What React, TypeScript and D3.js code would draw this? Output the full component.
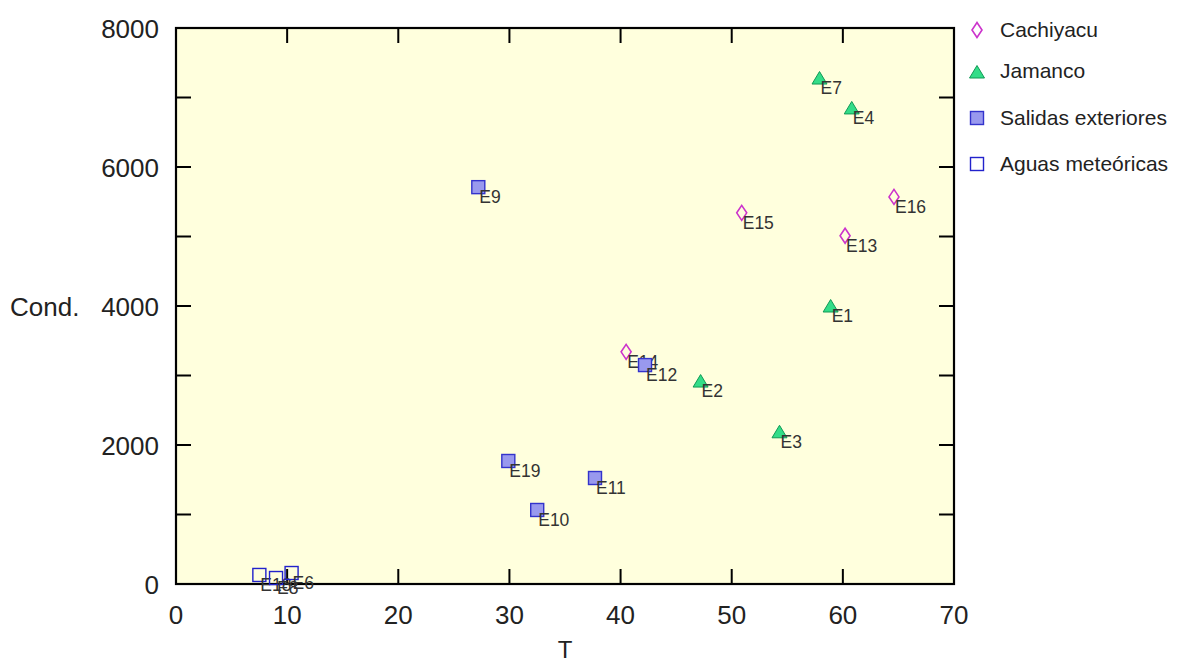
import React from "react";
import * as d3 from "d3";

const cachiyacuT = [50.9, 64.6, 60.2, 40.5];
const cachiyacuC = [5340, 5570, 5010, 3340];
const cachiyacuL = ["E15", "E16", "E13", "E14"];

const jamancoT = [57.9, 60.8, 58.9, 47.2, 54.3];
const jamancoC = [7280, 6850, 4000, 2920, 2190];
const jamancoL = ["E7", "E4", "E1", "E2", "E3"];

const salidasT = [27.2, 42.2, 29.9, 37.7, 32.5];
const salidasC = [5710, 3150, 1770, 1525, 1065];
const salidasL = ["E9", "E12", "E19", "E11", "E10"];

const aguasT = [7.5, 9.0, 10.4];
const aguasC = [130, 86, 158];
const aguasL = ["E18", "E8", "E6"];

const xTicks = [0, 10, 20, 30, 40, 50, 60, 70];
const yTicks = [0, 2000, 4000, 6000, 8000];
const yMinor = [1000, 3000, 5000, 7000];

const legendNames = ["Cachiyacu", "Jamanco", "Salidas exteriores", "Aguas meteóricas"];

const L = 176, R = 954, T = 28, B = 584;
const FONT = "'Liberation Sans', Arial, sans-serif";

function Marker({ kind, x, y }: { kind: number; x: number; y: number }) {
  if (kind === 0) {
    return <path d={`M${x},${y - 7.5} L${x + 5},${y} L${x},${y + 7.5} L${x - 5},${y} Z`} fill="none" stroke="#CC33CC" strokeWidth={1.6} />;
  }
  if (kind === 1) {
    return <path d={`M${x},${y - 6.5} L${x + 7.5},${y + 6} L${x - 7.5},${y + 6} Z`} fill="#33DD88" stroke="#119955" strokeWidth={1} />;
  }
  if (kind === 2) {
    return <rect x={x - 6.5} y={y - 6.5} width={13} height={13} fill="#9999EE" stroke="#3333CC" strokeWidth={1.4} />;
  }
  return <rect x={x - 6.5} y={y - 6.5} width={13} height={13} fill="none" stroke="#2222CC" strokeWidth={1.4} />;
}

export default function App() {
  const x = d3.scaleLinear().domain([0, 70]).range([L, R]);
  const y = d3.scaleLinear().domain([0, 8000]).range([B, T]);

  const series = [
    { t: cachiyacuT, c: cachiyacuC, l: cachiyacuL },
    { t: jamancoT, c: jamancoC, l: jamancoL },
    { t: salidasT, c: salidasC, l: salidasL },
    { t: aguasT, c: aguasC, l: aguasL },
  ];

  const tickLen = 15;
  const xTickInner = xTicks.slice(1, -1);
  const yTickAll = [...yTicks.slice(1, -1), ...yMinor];

  return (
    <svg width={1180} height={662} style={{ position: "absolute", left: 0, top: 0 }} fontFamily={FONT}>
      <rect x={L} y={T} width={R - L} height={B - T} fill="#FFFFDD" />
      {xTickInner.map((v) => (
        <g key={"xt" + v}>
          <line x1={x(v)} x2={x(v)} y1={B} y2={B - tickLen} stroke="#000" strokeWidth={2} />
          <line x1={x(v)} x2={x(v)} y1={T} y2={T + tickLen} stroke="#000" strokeWidth={2} />
        </g>
      ))}
      {yTickAll.map((v) => (
        <g key={"yt" + v}>
          <line x1={L} x2={L + tickLen} y1={y(v)} y2={y(v)} stroke="#000" strokeWidth={2} />
          <line x1={R} x2={R - tickLen} y1={y(v)} y2={y(v)} stroke="#000" strokeWidth={2} />
        </g>
      ))}
      <rect x={L} y={T} width={R - L} height={B - T} fill="none" stroke="#000" strokeWidth={2.2} />
      {xTicks.map((v) => (
        <text key={"xl" + v} x={x(v)} y={B + 40} textAnchor="middle" fontSize={26} fill="#222">{v}</text>
      ))}
      {yTicks.map((v) => (
        <text key={"yl" + v} x={L - 17} y={y(v) + 9.5} textAnchor="end" fontSize={26} fill="#222">{v}</text>
      ))}
      <text x={565} y={658} textAnchor="middle" fontSize={24} fill="#222">T</text>
      <text x={10} y={y(4000) + 9.5} fontSize={26} fill="#222">Cond.</text>
      {series.map((s, k) =>
        s.t.map((tv, i) => (
          <g key={`p${k}-${i}`}>
            <Marker kind={k} x={x(tv)} y={y(s.c[i])} />
            <text x={x(tv) + 1} y={y(s.c[i]) + 16} fontSize={17.5} fill="#333">{s.l[i]}</text>
          </g>
        ))
      )}
      {legendNames.map((n, k) => {
        const my = [30, 72, 118, 164][k];
        const ty = [37, 78, 125, 171][k];
        return (
          <g key={"lg" + k}>
            <Marker kind={k} x={977} y={my} />
            <text x={1000} y={ty} fontSize={21} fill="#222">{n}</text>
          </g>
        );
      })}
    </svg>
  );
}
